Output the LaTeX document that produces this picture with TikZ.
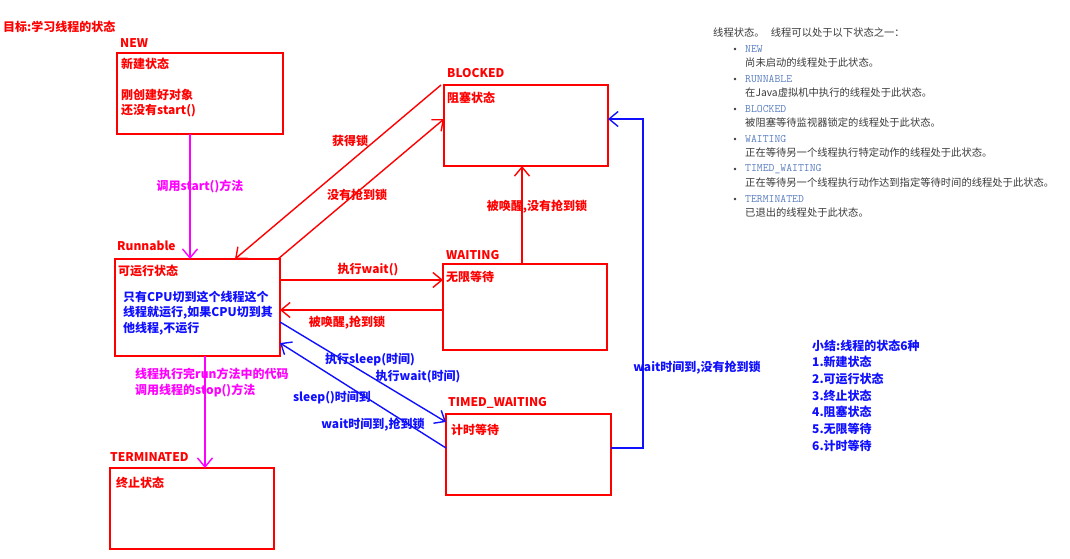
\documentclass[tikz,border=0pt]{standalone}
\usepackage{fontspec}
\setmainfont{Noto Sans CJK SC}
\usetikzlibrary{arrows.meta}
\definecolor{cred}{HTML}{FF0000}
\definecolor{cblue}{HTML}{1010FF}
\definecolor{cmag}{HTML}{FF00FF}
\definecolor{cgray}{HTML}{3A3A3A}
\definecolor{ccode}{HTML}{5A7EC0}
\begin{document}
\begin{tikzpicture}[x=1pt,y=-1pt,
  statebox/.style={draw=cred, line width=2pt, anchor=north west, inner sep=0pt, outer sep=0pt},
  title/.style={text=cred, font=\fontsize{12}{14}\selectfont\bfseries, anchor=west, inner sep=0pt},
  redtxt/.style={text=cred, font=\fontsize{12}{14}\selectfont\bfseries, inner sep=0pt},
  bluetxt/.style={text=cblue, font=\fontsize{12}{14}\selectfont\bfseries, inner sep=0pt},
  magtxt/.style={text=cmag, font=\fontsize{12}{14}\selectfont\bfseries, inner sep=0pt},
  graytxt/.style={text=cgray, font=\fontsize{10.3}{12}\selectfont, anchor=west, inner sep=0pt},
  codetxt/.style={text=ccode, font=\fontsize{11.4}{12}\ttfamily, anchor=west, inner sep=0pt},
  tip/.style={-{Straight Barb[length=9pt,width=15pt]}},
  redline/.style={draw=cred, line width=1.4pt, tip},
  blueline/.style={draw=cblue, line width=1.4pt, tip},
  magline/.style={draw=cmag, line width=1.4pt, tip}]
\useasboundingbox (0,0) rectangle (1070,559);

% title
\node[title] (ttl) at (3,27) {目标:学习线程的状态};

% state boxes
\node[statebox, minimum width=166pt, minimum height=81pt] (new) at (117,53) {};
\node[statebox, minimum width=164pt, minimum height=81pt] (blocked) at (444,85) {};
\node[statebox, minimum width=165pt, minimum height=97pt] (runnable) at (115,259) {};
\node[statebox, minimum width=164pt, minimum height=86pt] (waiting) at (443,264) {};
\node[statebox, minimum width=165pt, minimum height=81pt] (timed) at (446,414) {};
\node[statebox, minimum width=164pt, minimum height=81pt] (term) at (110,468) {};

% box titles
\node[title] (lnew) at (120,43) {NEW};
\node[title] (lblocked) at (447,73) {BLOCKED};
\node[title] (lrun) at (117,246) {Runnable};
\node[title] (lwait) at (446,255) {WAITING};
\node[title] (ltimed) at (448,403) {TIMED\_WAITING};
\node[title] (lterm) at (110,457) {TERMINATED};

% box contents
\node[redtxt, anchor=west] (tnew1) at (121,64) {新建状态};
\node[redtxt, anchor=west] (tnew2) at (121,95) {刚创建好对象};
\node[redtxt, anchor=west] (tnew3) at (121,111) {还没有start()};
\node[redtxt, anchor=west] (tblk) at (447,98) {阻塞状态};
\node[redtxt, anchor=west] (trun) at (118,271) {可运行状态};
\node[bluetxt, anchor=west] (trun1) at (123,297) {只有CPU切到这个线程这个};
\node[bluetxt, anchor=west] (trun2) at (123,313) {线程就运行,如果CPU切到其};
\node[bluetxt, anchor=west] (trun3) at (123,329) {他线程,不运行};
\node[redtxt, anchor=west] (twait) at (446,277) {无限等待};
\node[redtxt, anchor=west] (ttimed) at (451,430) {计时等待};
\node[redtxt, anchor=west] (tterm) at (116,483) {终止状态};

% connectors
\draw[magline] ([xshift=73pt]new.south west) -- ([xshift=75pt]runnable.north west);
\draw[magline] ([xshift=90pt]runnable.south west) -- ([xshift=95pt]term.north west);
\draw[redline] ([xshift=-3pt]blocked.north west) -- ([xshift=120pt]runnable.north west);
\draw[redline] ([xshift=-2pt]runnable.north east) -- ([yshift=-34pt]blocked.north west);
\draw[redline] ([yshift=-21pt]runnable.north east) -- ([yshift=-16pt]waiting.north west);
\draw[redline] ([yshift=-46pt]waiting.north west) -- ([yshift=-51pt]runnable.north east);
\draw[redline] ([xshift=79pt]waiting.north west) -- ([xshift=78pt]blocked.south west);
\draw[blueline] ([yshift=-63pt]runnable.north east) -- ([yshift=-8pt]timed.north west);
\draw[blueline] ([yshift=-34pt]timed.north west) -- ([yshift=13pt]runnable.south east);
\draw[blueline] ([yshift=-34pt]timed.north east) -- ++(32pt,0pt) |- ([yshift=-34pt]blocked.north east);

% connector labels
\node[magtxt] (lstart) at (200,186) {调用start()方法};
\node[magtxt, anchor=west] (lend1) at (135,374) {线程执行完run方法中的代码};
\node[magtxt, anchor=west] (lend2) at (135,391) {调用线程的stop()方法};
\node[redtxt] (llock) at (350,141) {获得锁};
\node[redtxt] (lnolock) at (357,195) {没有抢到锁};
\node[redtxt] (lwake) at (537,207) {被唤醒,没有抢到锁};
\node[redtxt] (lwaitcall) at (368,270) {执行wait()};
\node[redtxt] (lwakelock) at (347,323) {被唤醒,抢到锁};
\node[bluetxt] (lsleep) at (370,360) {执行sleep(时间)};
\node[bluetxt] (lwaitt) at (418,377) {执行wait(时间)};
\node[bluetxt] (lsleepend) at (332,398) {sleep()时间到};
\node[bluetxt] (lwaitend) at (373,425) {wait时间到,抢到锁};
\node[bluetxt] (lwaitnolock) at (697,368) {wait时间到,没有抢到锁};

% summary
\node[bluetxt, anchor=west] (s0) at (812,346) {小结:线程的状态6种};
\node[bluetxt, anchor=west] (s1) at (812,362) {1.新建状态};
\node[bluetxt, anchor=west] (s2) at (812,379) {2.可运行状态};
\node[bluetxt, anchor=west] (s3) at (812,396) {3.终止状态};
\node[bluetxt, anchor=west] (s4) at (812,412) {4.阻塞状态};
\node[bluetxt, anchor=west] (s5) at (812,429) {5.无限等待};
\node[bluetxt, anchor=west] (s6) at (812,446) {6.计时等待};

% API doc excerpt
\node[graytxt] (doc) at (713,33) {线程状态。\hspace{0.6em}线程可以处于以下状态之一：};
\foreach \y/\code/\desc [count=\i] in {
  49/NEW/尚未启动的线程处于此状态。,
  79/RUNNABLE/在Java虚拟机中执行的线程处于此状态。,
  109/BLOCKED/被阻塞等待监视器锁定的线程处于此状态。,
  139/WAITING/正在等待另一个线程执行特定动作的线程处于此状态。,
  169/TIMED\_WAITING/正在等待另一个线程执行动作达到指定等待时间的线程处于此状态。,
  199/TERMINATED/已退出的线程处于此状态。}{
  \fill[cgray] (735,\y) circle (1.4pt);
  \node[codetxt] (code\i) at (745,\y) {\code};
  \node[graytxt] (desc\i) at (745,\y+14) {\desc};
}
\end{tikzpicture}
\end{document}
